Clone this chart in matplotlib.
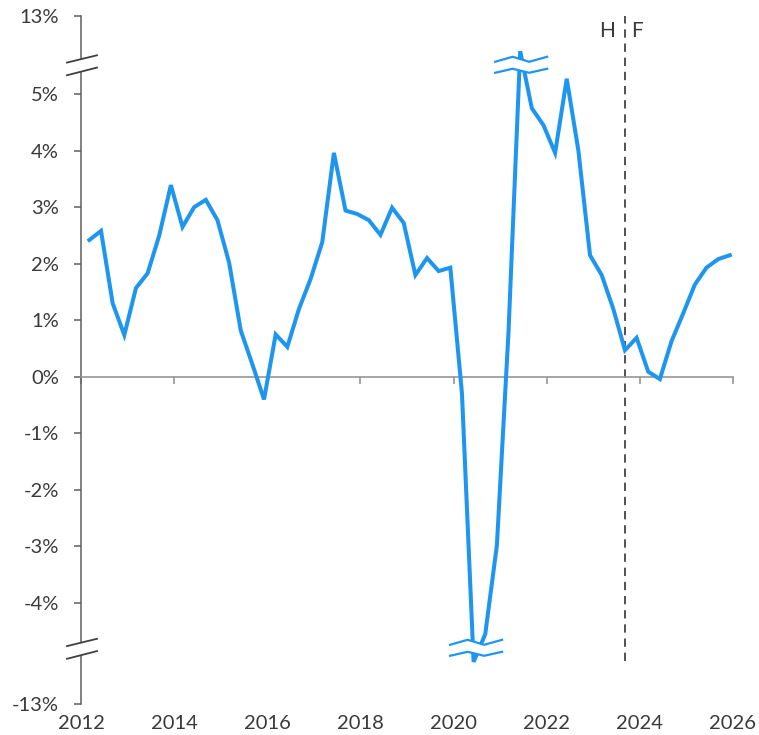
import numpy as np
import matplotlib
matplotlib.use("Agg")
import matplotlib.pyplot as plt
import matplotlib.transforms as mtransforms
from matplotlib.patches import Polygon

plt.rcParams['font.family'] = ['Lato', 'DejaVu Sans']

# ---- data ----
quarters = [f"{y}Q{q}" for y in range(2012, 2026) for q in range(1, 5)]
growth = [2.42, 2.58, 1.30, 0.74,
          1.57, 1.83, 2.50, 3.39,
          2.65, 3.00, 3.13, 2.77,
          2.02, 0.82, 0.22, -0.40,
          0.75, 0.53, 1.20, 1.73,
          2.38, 3.96, 2.94, 2.88,
          2.77, 2.51, 2.99, 2.72,
          1.80, 2.10, 1.87, 1.93,
          -0.29, -6.8, -4.55, -2.98,
          0.8, 7.7, 4.75, 4.45,
          3.96, 5.27, 4.00, 2.15,
          1.80, 1.20, 0.47, 0.69,
          0.09, -0.04, 0.63, 1.12,
          1.63, 1.93, 2.08, 2.15]
x_years = [2012, 2014, 2016, 2018, 2020, 2022, 2024, 2026]
y_ticks = [-13, -4, -3, -2, -1, 0, 1, 2, 3, 4, 5, 13]
y_ticklabels = ["-13%", "-4%", "-3%", "-2%", "-1%", "0%", "1%", "2%", "3%", "4%", "5%", "13%"]
forecast_start = "2023Q3"
labels_hf = ["H", "F"]

# quarter positions on a year axis
xs = np.array([int(q[:4]) + (int(q[-1]) - 1) / 4 + 0.18 for q in quarters])
vals = np.array(growth)

# ---- broken y scale ----
HI, LO = 5.5, -4.8
K_HI = (6.38 - HI) / (13 - HI)
K_LO = (5.785 + LO) / (13 + LO)


def fwd(v):
    v = np.asarray(v, float)
    return np.where(v > HI, HI + (v - HI) * K_HI,
                    np.where(v < LO, LO + (v - LO) * K_LO, v))


def inv(f):
    f = np.asarray(f, float)
    return np.where(f > HI, HI + (f - HI) / K_HI,
                    np.where(f < LO, LO + (f - LO) / K_LO, f))


fig = plt.figure(figsize=(7.59, 7.35), dpi=100)
ax = fig.add_axes([81 / 759, 1 - 704 / 735, (733 - 81) / 759, (704 - 16) / 735])
ax.set_yscale('function', functions=(fwd, inv))
ax.set_ylim(-13, 13)
ax.set_xlim(2012, 2026)

line_color = '#1E96F0'
ax.plot(xs, vals, color=line_color, lw=2.9, solid_joinstyle='miter', zorder=3)

text_color = '#3a3a3a'
fs = 14.5

# spines
for s in ['top', 'right']:
    ax.spines[s].set_visible(False)
ax.spines['left'].set_color('#5f5f5f')
ax.spines['left'].set_linewidth(1.1)
ax.spines['bottom'].set_position(('data', 0))
ax.spines['bottom'].set_color('#969696')
ax.spines['bottom'].set_linewidth(1.2)

ax.set_yticks(y_ticks)
ax.set_yticklabels(y_ticklabels)
ax.yaxis.set_minor_locator(matplotlib.ticker.NullLocator())
ax.tick_params(axis='y', direction='out', length=5, width=1.1, color='#5f5f5f',
               pad=11, labelsize=fs, labelcolor=text_color)

ax.set_xticks(x_years)
ax.xaxis.set_minor_locator(matplotlib.ticker.NullLocator())
ax.tick_params(axis='x', direction='out', length=5, width=1.2, color='#969696',
               labelbottom=False)

sec = ax.secondary_xaxis(location=0)
sec.set_xticks(x_years)
sec.set_xticklabels([str(y) for y in x_years])
sec.spines['bottom'].set_visible(False)
sec.tick_params(axis='x', length=0, pad=8, labelsize=fs, labelcolor=text_color)

# forecast divider
i_fc = quarters.index(forecast_start)
ax.axvline(xs[i_fc], ymin=0.063, ymax=1.0, color='#333333', lw=1.2,
           dashes=(5, 3.5), zorder=2)
hf_tr = mtransforms.blended_transform_factory(ax.transData, ax.transAxes)
ax.annotate(labels_hf[0], xy=(xs[i_fc], 0.978), xycoords=hf_tr,
            xytext=(-7, 0), textcoords='offset points', ha='right', va='center',
            fontsize=15, color=text_color)
ax.annotate(labels_hf[1], xy=(xs[i_fc], 0.978), xycoords=hf_tr,
            xytext=(4.5, 0), textcoords='offset points', ha='left', va='center',
            fontsize=15, color=text_color)


def pix_transform(x, y, base):
    return mtransforms.Affine2D() + mtransforms.ScaledTranslation(x, y, base)


# axis break marks
axis_tr = mtransforms.blended_transform_factory(ax.transAxes, ax.transData)
for yb, dy in [(HI, 0.5), (LO, -0.5)]:
    tr = pix_transform(0, yb, axis_tr)
    up = [(-14, 2.7 + dy), (16, 10 + dy)]
    lo = [(-14, -10 + dy), (16, -2.3 + dy)]
    poly = Polygon(up + lo[::-1], closed=True, facecolor='white', edgecolor='none',
                   transform=tr, clip_on=False, zorder=5)
    ax.add_patch(poly)
    for seg in (up, lo):
        ax.plot([p[0] for p in seg], [p[1] for p in seg], color='#404040', lw=1.3,
                transform=tr, clip_on=False, zorder=6)

# series break marks
i_max = int(np.argmax(vals))
i_min = int(np.argmin(vals))
for idx, yb, dx, dy in [(i_max, HI, 1, 1), (i_min, LO, 2.5, 0.5)]:
    tr = pix_transform(xs[idx], yb, ax.transData)
    xo = [-26, -8.5, 8, 26]
    up = [(x + dx, y + dy) for x, y in zip(xo, [3, 8, 3, 8])]
    lo = [(x + dx, y + dy) for x, y in zip(xo, [-8, -4, -8, -4])]
    poly = Polygon(up + lo[::-1], closed=True, facecolor='white', edgecolor='none',
                   transform=tr, clip_on=False, zorder=4)
    ax.add_patch(poly)
    for seg in (up, lo):
        ax.plot([p[0] for p in seg], [p[1] for p in seg], color=line_color, lw=1.6,
                transform=tr, clip_on=False, zorder=4.5)

fig.savefig('out.png', dpi=100)
